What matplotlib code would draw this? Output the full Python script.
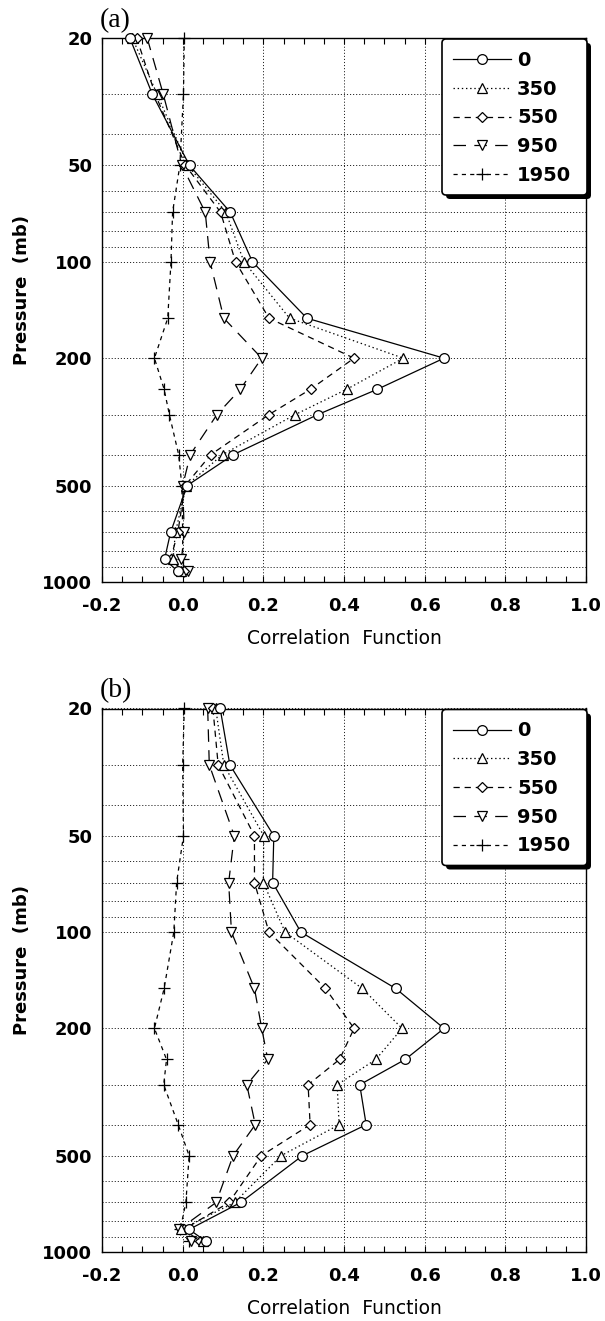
import matplotlib
matplotlib.use("Agg")
import matplotlib.pyplot as plt
from matplotlib.lines import Line2D
from matplotlib.patches import FancyBboxPatch
from matplotlib.transforms import IdentityTransform
from matplotlib.ticker import MultipleLocator, NullFormatter

plt.rcParams['font.family'] = ['DejaVu Sans']
plt.rcParams['lines.scale_dashes'] = False

# ---------------- data ----------------
pressure_levels = [20, 30, 50, 70, 100, 150, 200, 250, 300, 400, 500, 700, 850, 925]
series_labels = ['0', '350', '550', '950', '1950']

# panel (a)
a_corr_0    = [-0.131, -0.075, 0.017, 0.118, 0.173, 0.308, 0.648, 0.483, 0.335, 0.126, 0.011, -0.030, -0.045, -0.012]
a_corr_350  = [-0.125, -0.063, 0.013, 0.107, 0.152, 0.265, 0.547, 0.407, 0.279, 0.099, 0.009, -0.018, -0.024, -0.003]
a_corr_550  = [-0.114, -0.068, 0.007, 0.094, 0.131, 0.214, 0.425, 0.317, 0.214, 0.070, 0.006, -0.012, -0.030, 0.003]
a_corr_950  = [-0.088, -0.048, -0.002, 0.056, 0.068, 0.102, 0.196, 0.143, 0.085, 0.019, 0.000, 0.004, -0.003, 0.013]
a_corr_1950 = [0.004, 0.002, -0.007, -0.025, -0.029, -0.037, -0.070, -0.046, -0.033, -0.010, -0.002, 0.000, 0.000, 0.003]

# panel (b)
b_corr_0    = [0.093, 0.117, 0.226, 0.223, 0.293, 0.528, 0.648, 0.552, 0.439, 0.455, 0.297, 0.144, 0.016, 0.057]
b_corr_350  = [0.082, 0.102, 0.201, 0.200, 0.254, 0.445, 0.544, 0.479, 0.383, 0.388, 0.244, 0.129, -0.004, 0.050]
b_corr_550  = [0.075, 0.088, 0.178, 0.178, 0.214, 0.354, 0.425, 0.389, 0.311, 0.316, 0.195, 0.115, 0.003, 0.043]
b_corr_950  = [0.062, 0.066, 0.128, 0.114, 0.121, 0.178, 0.196, 0.211, 0.159, 0.180, 0.125, 0.083, -0.009, 0.020]
b_corr_1950 = [0.004, 0.000, 0.002, -0.015, -0.022, -0.046, -0.070, -0.040, -0.047, -0.011, 0.016, 0.008, -0.006, 0.015]

pressure_ticks = [20, 50, 100, 200, 500, 1000]
pressure_tick_labels = ['20', '50', '100', '200', '500', '1000']
pressure_minor_ticks = [30, 40, 60, 70, 80, 90, 300, 400, 600, 700, 800, 900]
corr_ticks = [-0.2, 0.0, 0.2, 0.4, 0.6, 0.8, 1.0]
corr_tick_labels = ['-0.2', '0.0', '0.2', '0.4', '0.6', '0.8', '1.0']
panel_labels = ['(a)', '(b)']
x_label = 'Correlation  Function'
y_label = 'Pressure  (mb)'

# ---------------- figure ----------------
W, H = 605, 1321
fig = plt.figure(figsize=(W / 100, H / 100), dpi=100)

def fx(px):
    return px / W

def fy(py):
    return 1 - py / H

styles = [
    dict(linestyle='-', marker='o', ms=7.0),
    dict(linestyle=(0, (1.0, 2.0)), marker='^', ms=6.8),
    dict(linestyle=(0, (4.5, 3.5)), marker='D', ms=4.8),
    dict(linestyle=(0, (9.0, 6.0)), marker='v', ms=7.0),
    dict(linestyle=(0, (3.0, 3.0)), marker='+', ms=8.0),
]

panels = [
    dict(top=38, bottom=582, label_base=26.7,
         data=[a_corr_0, a_corr_350, a_corr_550, a_corr_950, a_corr_1950]),
    dict(top=708.5, bottom=1252, label_base=696.7,
         data=[b_corr_0, b_corr_350, b_corr_550, b_corr_950, b_corr_1950]),
]

AX_L, AX_R = 102, 586
tick_font = dict(family='DejaVu Sans', weight='bold', size=13)

for pi, p in enumerate(panels):
    ax = fig.add_axes([fx(AX_L), fy(p['bottom']), (AX_R - AX_L) / W,
                       (p['bottom'] - p['top']) / H])
    ax.set_yscale('log')
    ax.set_xlim(-0.2, 1.0)
    ax.set_ylim(1000, 20)

    # draw series (last first so "0" sits on top)
    for k in range(len(series_labels) - 1, -1, -1):
        st = styles[k]
        ax.plot(p['data'][k], pressure_levels, color='black', lw=0.9,
                linestyle=st['linestyle'], marker=st['marker'], ms=st['ms'],
                mfc='white', mec='black', mew=0.9, zorder=3 + (5 - k) * 0.1,
                clip_on=False)

    ax.set_yticks(pressure_ticks, labels=pressure_tick_labels)
    ax.set_yticks(pressure_minor_ticks, minor=True)
    ax.yaxis.set_minor_formatter(NullFormatter())
    ax.set_xticks(corr_ticks, labels=corr_tick_labels)
    ax.xaxis.set_minor_locator(MultipleLocator(0.05))

    ax.grid(True, axis='y', which='both', color='black', lw=0.6,
            linestyle=(0, (0.8, 1.4)))
    ax.grid(True, axis='x', which='major', color='black', lw=0.6,
            linestyle=(0, (0.8, 1.4)))
    ax.set_axisbelow(True)

    ax.tick_params(axis='x', which='both', direction='in', top=True, bottom=True,
                   length=4, width=0.8, pad=11)
    ax.tick_params(axis='y', which='both', length=0, pad=7)
    for lab in ax.get_xticklabels() + ax.get_yticklabels():
        lab.set_fontproperties(tick_font)
    for s in ax.spines.values():
        s.set_linewidth(1.0)

    ax.set_xlabel(x_label, fontsize=13.5, family='DejaVu Sans')
    ax.xaxis.set_label_coords(0.5, -0.087)
    ax.set_ylabel(y_label, fontsize=13, family='DejaVu Sans', weight='bold')
    ax.yaxis.set_label_coords(-0.147, 0.537)

    fig.text(fx(100), fy(p['label_base']), panel_labels[pi], family='Liberation Serif',
             fontsize=20, ha='left', va='baseline')

    # legend box with shadow (pixel coordinates)
    bx0, bx1 = 442, 587
    by0 = p['top'] + 1
    by1 = by0 + 156
    shadow = FancyBboxPatch((bx0 + 4, H - by1 - 4), bx1 - bx0, by1 - by0,
                            boxstyle='round,pad=0,rounding_size=4',
                            transform=IdentityTransform(), facecolor='black',
                            edgecolor='black', lw=0, zorder=3)
    box = FancyBboxPatch((bx0, H - by1), bx1 - bx0, by1 - by0,
                         boxstyle='round,pad=0,rounding_size=4',
                         transform=IdentityTransform(), facecolor='white',
                         edgecolor='black', lw=1.2, zorder=4)
    fig.add_artist(shadow)
    fig.add_artist(box)

    handles = [Line2D([], [], color='black', lw=0.9, linestyle=styles[k]['linestyle'],
                      marker=styles[k]['marker'], ms=styles[k]['ms'], mfc='white',
                      mec='black', mew=0.9) for k in range(len(series_labels))]
    fig.legend(handles, series_labels, loc='upper left',
               bbox_to_anchor=(fx(453), fy(p['top'] + 13)),
               frameon=False, borderpad=0, borderaxespad=0, handlelength=3.0,
               handletextpad=0.3, labelspacing=0.5, numpoints=1,
               prop=dict(family='DejaVu Sans', weight='bold', size=14))

fig.savefig('out.png', dpi=100)
